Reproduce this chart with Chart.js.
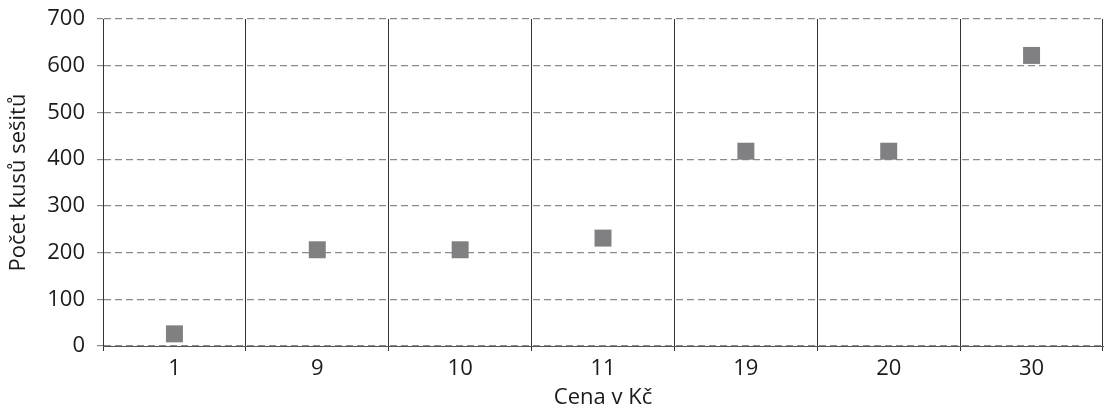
<!DOCTYPE html>
<html lang="cs">
<head>
    <meta charset="UTF-8">
    <title>Počet kusů sešitů podle ceny</title>
    <script src="https://cdn.jsdelivr.net/npm/chart.js"></script>
    <style>
        html, body {
            margin: 0;
            padding: 0;
            background: #fff;
        }
        .chart-container {
            width: 1115px;
            height: 419px;
            position: relative;
        }
    </style>
</head>
<body>
    <div class="chart-container">
        <canvas id="scatterChart"></canvas>
    </div>

    <script>
        // ceny v Kč (kategorie na ose x)
        const ceny = ['1', '9', '10', '11', '19', '20', '30'];
        // počet kusů sešitů
        const pocty = [26, 206, 206, 231, 417, 417, 622];
        const yMin = 0;
        const yMax = 700;
        const yKrok = 100;

        const pismo = "'Open Sans', 'Liberation Sans', sans-serif";

        const ctx = document.getElementById('scatterChart').getContext('2d');
        new Chart(ctx, {
            type: 'line',
            data: {
                labels: ceny,
                datasets: [{
                    label: 'Počet kusů sešitů',
                    data: pocty,
                    showLine: false,
                    pointStyle: 'rect',
                    pointRadius: 12,
                    pointHoverRadius: 12,
                    pointBackgroundColor: '#808083',
                    pointBorderWidth: 0
                }]
            },
            options: {
                responsive: true,
                maintainAspectRatio: false,
                animation: false,
                layout: {
                    padding: { left: 0, right: 5, top: 19, bottom: 0 }
                },
                plugins: {
                    legend: { display: false },
                    tooltip: { enabled: false }
                },
                scales: {
                    x: {
                        type: 'category',
                        offset: true,
                        grid: {
                            offset: true,
                            color: '#333',
                            lineWidth: 1,
                            tickLength: 5
                        },
                        border: {
                            display: true,
                            color: '#555',
                            width: 1
                        },
                        ticks: {
                            color: '#1a1a1a',
                            padding: 5,
                            font: { family: pismo, size: 22 }
                        },
                        title: {
                            display: true,
                            text: 'Cena v Kč',
                            color: '#1a1a1a',
                            padding: { top: 0, bottom: 8 },
                            font: { family: pismo, size: 22 }
                        },
                        afterFit: function (scale) {
                            scale.height = 73;
                            scale.paddingLeft = 0;
                            scale.paddingRight = 0;
                        }
                    },
                    y: {
                        min: yMin,
                        max: yMax,
                        grid: {
                            color: '#8a8a8a',
                            lineWidth: 1.2,
                            tickLength: 6
                        },
                        border: {
                            display: true,
                            color: '#333',
                            dash: [7, 4]
                        },
                        ticks: {
                            stepSize: yKrok,
                            color: '#1a1a1a',
                            padding: 12,
                            font: { family: pismo, size: 22 }
                        },
                        title: {
                            display: true,
                            text: 'Počet kusů sešitů',
                            color: '#1a1a1a',
                            padding: { top: 6, bottom: 0 },
                            font: { family: pismo, size: 22 }
                        },
                        afterFit: function (scale) {
                            scale.width = 103;
                            scale.paddingTop = 0;
                            scale.paddingBottom = 0;
                        }
                    }
                }
            }
        });
    </script>
</body>
</html>
